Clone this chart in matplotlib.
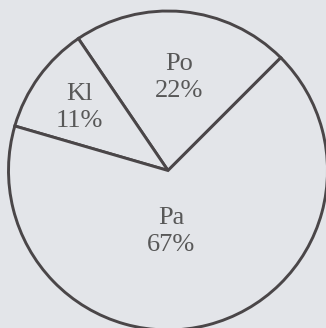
import numpy as np
import matplotlib.pyplot as plt

# share of each component
labels = ['Po', 'Kl', 'Pa']
shares = [22, 11, 67]
# text offsets from the pie centre (px, y up)
label_xy = [(11, 93), (-89, 63), (3, -61)]

bg = '#e3e5e9'
edge = '#4a4648'

fig = plt.figure(figsize=(3.26, 3.28), dpi=100, facecolor=bg)
ax = fig.add_axes([0, 0, 1, 1])
ax.set_facecolor(bg)

cx, cy, r = 168, 157.5, 159.5
ax.pie(shares, startangle=45, counterclock=True, center=(cx, cy), radius=r,
       colors=[bg] * 3,
       wedgeprops=dict(edgecolor=edge, linewidth=2.1))

for name, pct, (dx, dy) in zip(labels, shares, label_xy):
    ax.text(cx + dx, cy + dy, f'{name}\n{pct}%', ha='center', va='center',
            fontsize=19, family='Liberation Serif', color='#585858',
            linespacing=1.25)

ax.set_xlim(0, 326)
ax.set_ylim(0, 328)
ax.set_aspect('equal')
ax.axis('off')

fig.savefig('out.png', dpi=100, facecolor=bg)
